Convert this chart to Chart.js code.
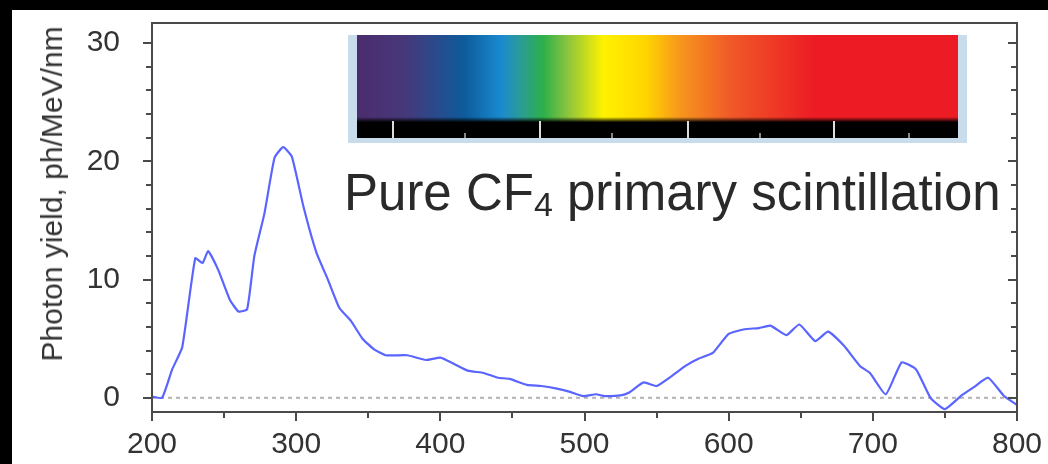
<!DOCTYPE html>
<html>
<head>
<meta charset="utf-8">
<script src="https://cdn.jsdelivr.net/npm/chart.js@4.4.1/dist/chart.umd.min.js"></script>
<style>
  html, body { margin: 0; padding: 0; background: #000; }
  body { width: 1048px; height: 464px; position: relative; overflow: hidden; font-family: "Liberation Sans", Arial, sans-serif; }
  #panel { position: absolute; left: 12px; top: 10px; width: 1036px; height: 454px; background: #fff; }
  #chart-box { position: absolute; left: 0; top: 0; width: 1036px; height: 454px; }
  #ytitle { position: absolute; left: 52px; top: 194px; transform: translate(-50%, -50%) rotate(-90deg); white-space: nowrap; font-size: 30px; color: #333; }
  #spectrum { position: absolute; left: 348px; top: 35px; width: 619px; height: 108px; background: #c8dcec; }
  #spectrum .band { position: absolute; left: 9px; top: 0; width: 601px; height: 103px;
    background: linear-gradient(to right, #4b2d6e 0%, #46387a 8%, #0d5c9c 18%, #1a8ad0 24%, #2a9a9a 27%, #2db04a 31%, #8ac43f 35%, #fff200 41%, #ffd500 48%, #f7941d 54%, #f05a28 62%, #ed1c24 76%, #ed1c24 100%); }
  #spectrum .bar { position: absolute; left: 0; top: 82px; width: 100%; height: 21px; background: linear-gradient(to bottom, rgba(0,0,0,0) 0%, #000 25%, #000 100%); }
  #spectrum .tk { position: absolute; bottom: 0; width: 2px; }
  #spectrum .tk.major { height: 17px; background: #ddd; }
  #spectrum .tk.minor { height: 5px; background: #888; }
  #note { position: absolute; left: 344px; top: 167px; font-size: 51px; line-height: 1; color: #2a2a2a; white-space: nowrap; }
  #note sub { font-size: 34px; vertical-align: -6px; line-height: 0; }
</style>
</head>
<body>
<div id="panel">
  <div id="chart-box"><canvas id="spectrum-chart"></canvas></div>
</div>
<div id="ytitle">Photon yield, ph/MeV/nm</div>
<div id="spectrum">
  <div class="band">
    <div class="bar">
      <div class="tk major" style="left: 35px"></div>
      <div class="tk minor" style="left: 107px"></div>
      <div class="tk major" style="left: 182px"></div>
      <div class="tk minor" style="left: 254px"></div>
      <div class="tk major" style="left: 330px"></div>
      <div class="tk minor" style="left: 402px"></div>
      <div class="tk major" style="left: 476px"></div>
      <div class="tk minor" style="left: 551px"></div>
    </div>
  </div>
</div>
<div id="note">Pure CF<sub>4</sub> primary scintillation</div>

<script>
// Wavelength (nm) and photon yield (ph/MeV/nm)
const wavelengths = [200, 207, 214, 221, 230, 235, 239, 246, 254, 260, 266, 271, 278, 285, 291, 297,
  305, 314, 322, 330, 338, 346, 354, 362, 377, 390, 400, 409, 419, 430, 440, 448, 460, 470, 480,
  490, 499, 508, 514, 525, 531, 541, 550, 560, 570, 579, 589, 600, 611, 621, 629, 640, 649, 660,
  669, 680, 691, 698, 709, 720, 730, 740, 750, 762, 770, 780, 791, 800];
const yields = [0.1, 0, 2.4, 4.3, 11.8, 11.4, 12.4, 10.8, 8.3, 7.3, 7.5, 12.0, 15.6, 20.3, 21.2, 20.4,
  16.2, 12.3, 10.0, 7.6, 6.5, 5.0, 4.1, 3.6, 3.6, 3.2, 3.4, 2.9, 2.3, 2.1, 1.7, 1.6, 1.1, 1.0, 0.8,
  0.5, 0.15, 0.3, 0.15, 0.2, 0.45, 1.3, 1.0, 1.8, 2.7, 3.3, 3.8, 5.4, 5.8, 5.9, 6.1, 5.3, 6.2, 4.8,
  5.6, 4.4, 2.7, 2.1, 0.3, 3.0, 2.4, 0, -0.95, 0.25, 0.9, 1.7, 0.15, -0.6];

const xRange = [200, 800];
const yRange = [-1.2, 31.7];
const xMajor = [200, 300, 400, 500, 600, 700, 800];
const yMajor = [0, 10, 20, 30];

const AXIS_COLOR = "#4a4a4a";
const LABEL_FONT = { family: "'Liberation Sans', Arial, sans-serif", size: 30 };

// frame + major/minor tick marks, drawn off the chart's own scales
const frameTicks = {
  id: "frameTicks",
  afterDraw(chart) {
    const { ctx, chartArea: a, scales } = chart;
    const x = scales.x, y = scales.y;
    ctx.save();
    ctx.strokeStyle = AXIS_COLOR;
    ctx.lineWidth = 2;
    ctx.strokeRect(a.left, a.top, a.right - a.left, a.bottom - a.top);

    ctx.beginPath();
    for (let v = xRange[0]; v <= xRange[1]; v += 50) {
      const px = Math.round(x.getPixelForValue(v));
      const len = v % 100 === 0 ? 9 : 6;
      ctx.moveTo(px, a.bottom);
      ctx.lineTo(px, a.bottom + len);
    }
    for (let v = 0; v <= 30; v += 2) {
      const py = Math.round(y.getPixelForValue(v));
      const len = v % 10 === 0 ? 9 : 6;
      ctx.moveTo(a.left, py);
      ctx.lineTo(a.left - len, py);
      ctx.moveTo(a.right, py);
      ctx.lineTo(a.right - len, py);
    }
    ctx.stroke();
    ctx.restore();
  },
};

// keep the plot box fixed: no automatic room for overhanging tick labels
function fixedBox(size, key) {
  return (s) => {
    s[key] = size;
    s.paddingTop = 0;
    s.paddingBottom = 0;
    s.paddingLeft = 0;
    s.paddingRight = 0;
  };
}

const points = wavelengths.map((w, i) => ({ x: w, y: yields[i] }));
const baseline = xRange.map((w) => ({ x: w, y: 0 }));

new Chart(document.getElementById("spectrum-chart"), {
  type: "line",
  data: {
    datasets: [
      {
        label: "baseline",
        data: baseline,
        borderColor: "#b4b4b4",
        borderWidth: 2,
        borderDash: [4, 4],
        pointRadius: 0,
        order: 2,
      },
      {
        label: "CF4",
        data: points,
        borderColor: "#5a64ff",
        borderWidth: 2.2,
        tension: 0.15,
        pointRadius: 0,
        order: 1,
      },
    ],
  },
  options: {
    animation: false,
    responsive: true,
    maintainAspectRatio: false,
    layout: { padding: { top: 13, right: 31, left: 0, bottom: 0 } },
    plugins: {
      legend: { display: false },
      tooltip: { enabled: false },
    },
    scales: {
      x: {
        type: "linear",
        min: xRange[0],
        max: xRange[1],
        grid: { display: false },
        border: { display: false },
        afterFit: fixedBox(52, "height"),
        afterBuildTicks: (s) => { s.ticks = xMajor.map((v) => ({ value: v })); },
        ticks: { color: "#333", font: LABEL_FONT, padding: 7, maxRotation: 0, autoSkip: false },
      },
      y: {
        min: yRange[0],
        max: yRange[1],
        grid: { display: false },
        border: { display: false },
        afterFit: fixedBox(140, "width"),
        afterBuildTicks: (s) => { s.ticks = yMajor.map((v) => ({ value: v })); },
        ticks: { color: "#333", font: LABEL_FONT, padding: 24 },
      },
    },
  },
  plugins: [frameTicks],
});
</script>
</body>
</html>
